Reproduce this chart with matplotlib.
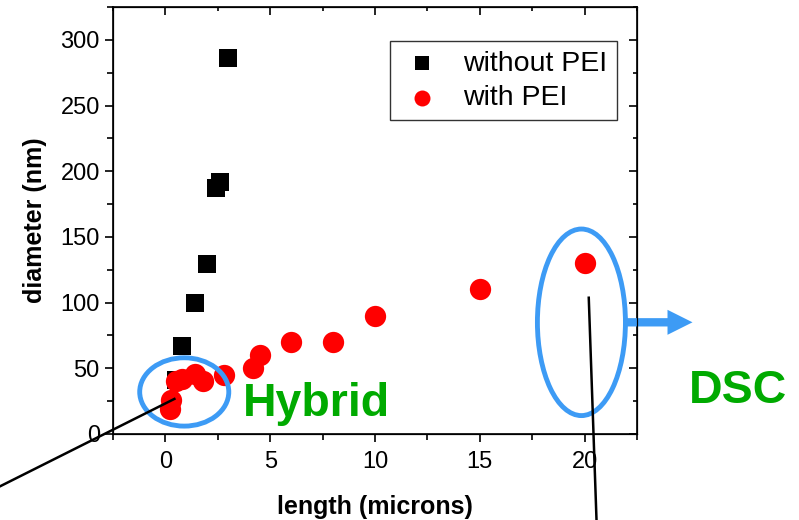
import matplotlib
matplotlib.use('Agg')
import matplotlib.pyplot as plt
from matplotlib.patches import Ellipse
from matplotlib.ticker import MultipleLocator

plt.rcParams['font.family'] = ['Liberation Sans', 'DejaVu Sans']

# data
len_no_pei = [0.5, 0.8, 1.4, 2.0, 2.4, 2.6, 3.0]
dia_no_pei = [41, 67, 100, 129, 187, 192, 286]

len_pei = [0.2, 0.25, 0.5, 0.8, 1.4, 1.8, 2.8, 4.2, 4.5, 6, 8, 10, 15, 20]
dia_pei = [19, 26, 40, 42, 46, 40, 45, 50, 60, 70, 70, 90, 110, 130]

blue = '#3d9bf5'
green = '#00aa00'

fig = plt.figure(figsize=(7.99, 5.2), dpi=100)
ax = fig.add_axes([0.1414, 0.1654, 0.6558, 0.8212])

ax.scatter(len_no_pei, dia_no_pei, marker='s', s=170, color='black',
           label='without PEI', zorder=3, linewidths=0)
ax.scatter(len_pei, dia_pei, marker='o', s=235, color='red',
           label='with PEI', zorder=4, linewidths=0)

ax.set_xlim(-2.5, 22.5)
ax.set_ylim(0, 325)
ax.xaxis.set_major_locator(MultipleLocator(5))
ax.xaxis.set_minor_locator(MultipleLocator(2.5))
ax.yaxis.set_major_locator(MultipleLocator(50))
ax.yaxis.set_minor_locator(MultipleLocator(25))
ax.tick_params(which='both', direction='out', labelsize=17, width=1.2)
ax.tick_params(axis='x', pad=6)
ax.tick_params(which='major', length=6)
ax.tick_params(which='minor', length=4)
for s in ax.spines.values():
    s.set_linewidth(1.2)

# inward ticks on top and right
ax2 = ax.twinx()
ax2.set_ylim(0, 325)
ax2.yaxis.set_major_locator(MultipleLocator(50))
ax2.yaxis.set_minor_locator(MultipleLocator(25))
ax2.tick_params(which='both', direction='in', labelright=False, width=1.2)
ax2.tick_params(which='major', length=6)
ax2.tick_params(which='minor', length=3)
ax3 = ax.twiny()
ax3.set_xlim(-2.5, 22.5)
ax3.xaxis.set_major_locator(MultipleLocator(5))
ax3.xaxis.set_minor_locator(MultipleLocator(2.5))
ax3.tick_params(which='both', direction='in', labeltop=False, width=1.2)
ax3.tick_params(which='major', length=6)
ax3.tick_params(which='minor', length=3)

ax.set_xlabel('length (microns)', fontsize=18, fontweight='bold', labelpad=16)
ax.set_ylabel('diameter (nm)', fontsize=18, fontweight='bold', labelpad=10)

leg = ax.legend(loc='upper right', bbox_to_anchor=(0.962, 0.92), fontsize=20.5,
                frameon=True, fancybox=False, edgecolor='black',
                handletextpad=0.66, borderpad=0.33, labelspacing=0.3,
                markerscale=0.75, borderaxespad=0, handlelength=1.6)
leg.get_frame().set_linewidth(1.0)

# annotations
ax.add_patch(Ellipse((0.9, 32), 4.25, 52, fill=False, edgecolor=blue,
                     linewidth=3.5, zorder=5, clip_on=False))
ax.add_patch(Ellipse((19.85, 85), 4.2, 142, fill=False, edgecolor=blue,
                     linewidth=3.5, zorder=5, clip_on=False))
ax.text(3.7, 23, 'Hybrid', color=green, fontsize=33.5, fontweight='bold',
        va='center', ha='left', zorder=6)
ax.text(25.0, 33, 'DSC', color=green, fontsize=33.5, fontweight='bold',
        va='center', ha='left', clip_on=False)
ax.plot([-7.86, 0.43], [-39.6, 26.7], color='black', lw=1.8, clip_on=False, zorder=6)
ax.plot([20.2, 20.57], [103.7, -65.5], color='black', lw=1.8, clip_on=False, zorder=6)
ax.annotate('', xy=(25.15, 85), xytext=(22.0, 85),
            arrowprops=dict(arrowstyle='simple,head_length=0.9,head_width=0.9,tail_width=0.3',
                            color=blue, lw=0, mutation_scale=20,
                            shrinkA=0, shrinkB=0),
            annotation_clip=False)

plt.savefig('out.png', dpi=100)
